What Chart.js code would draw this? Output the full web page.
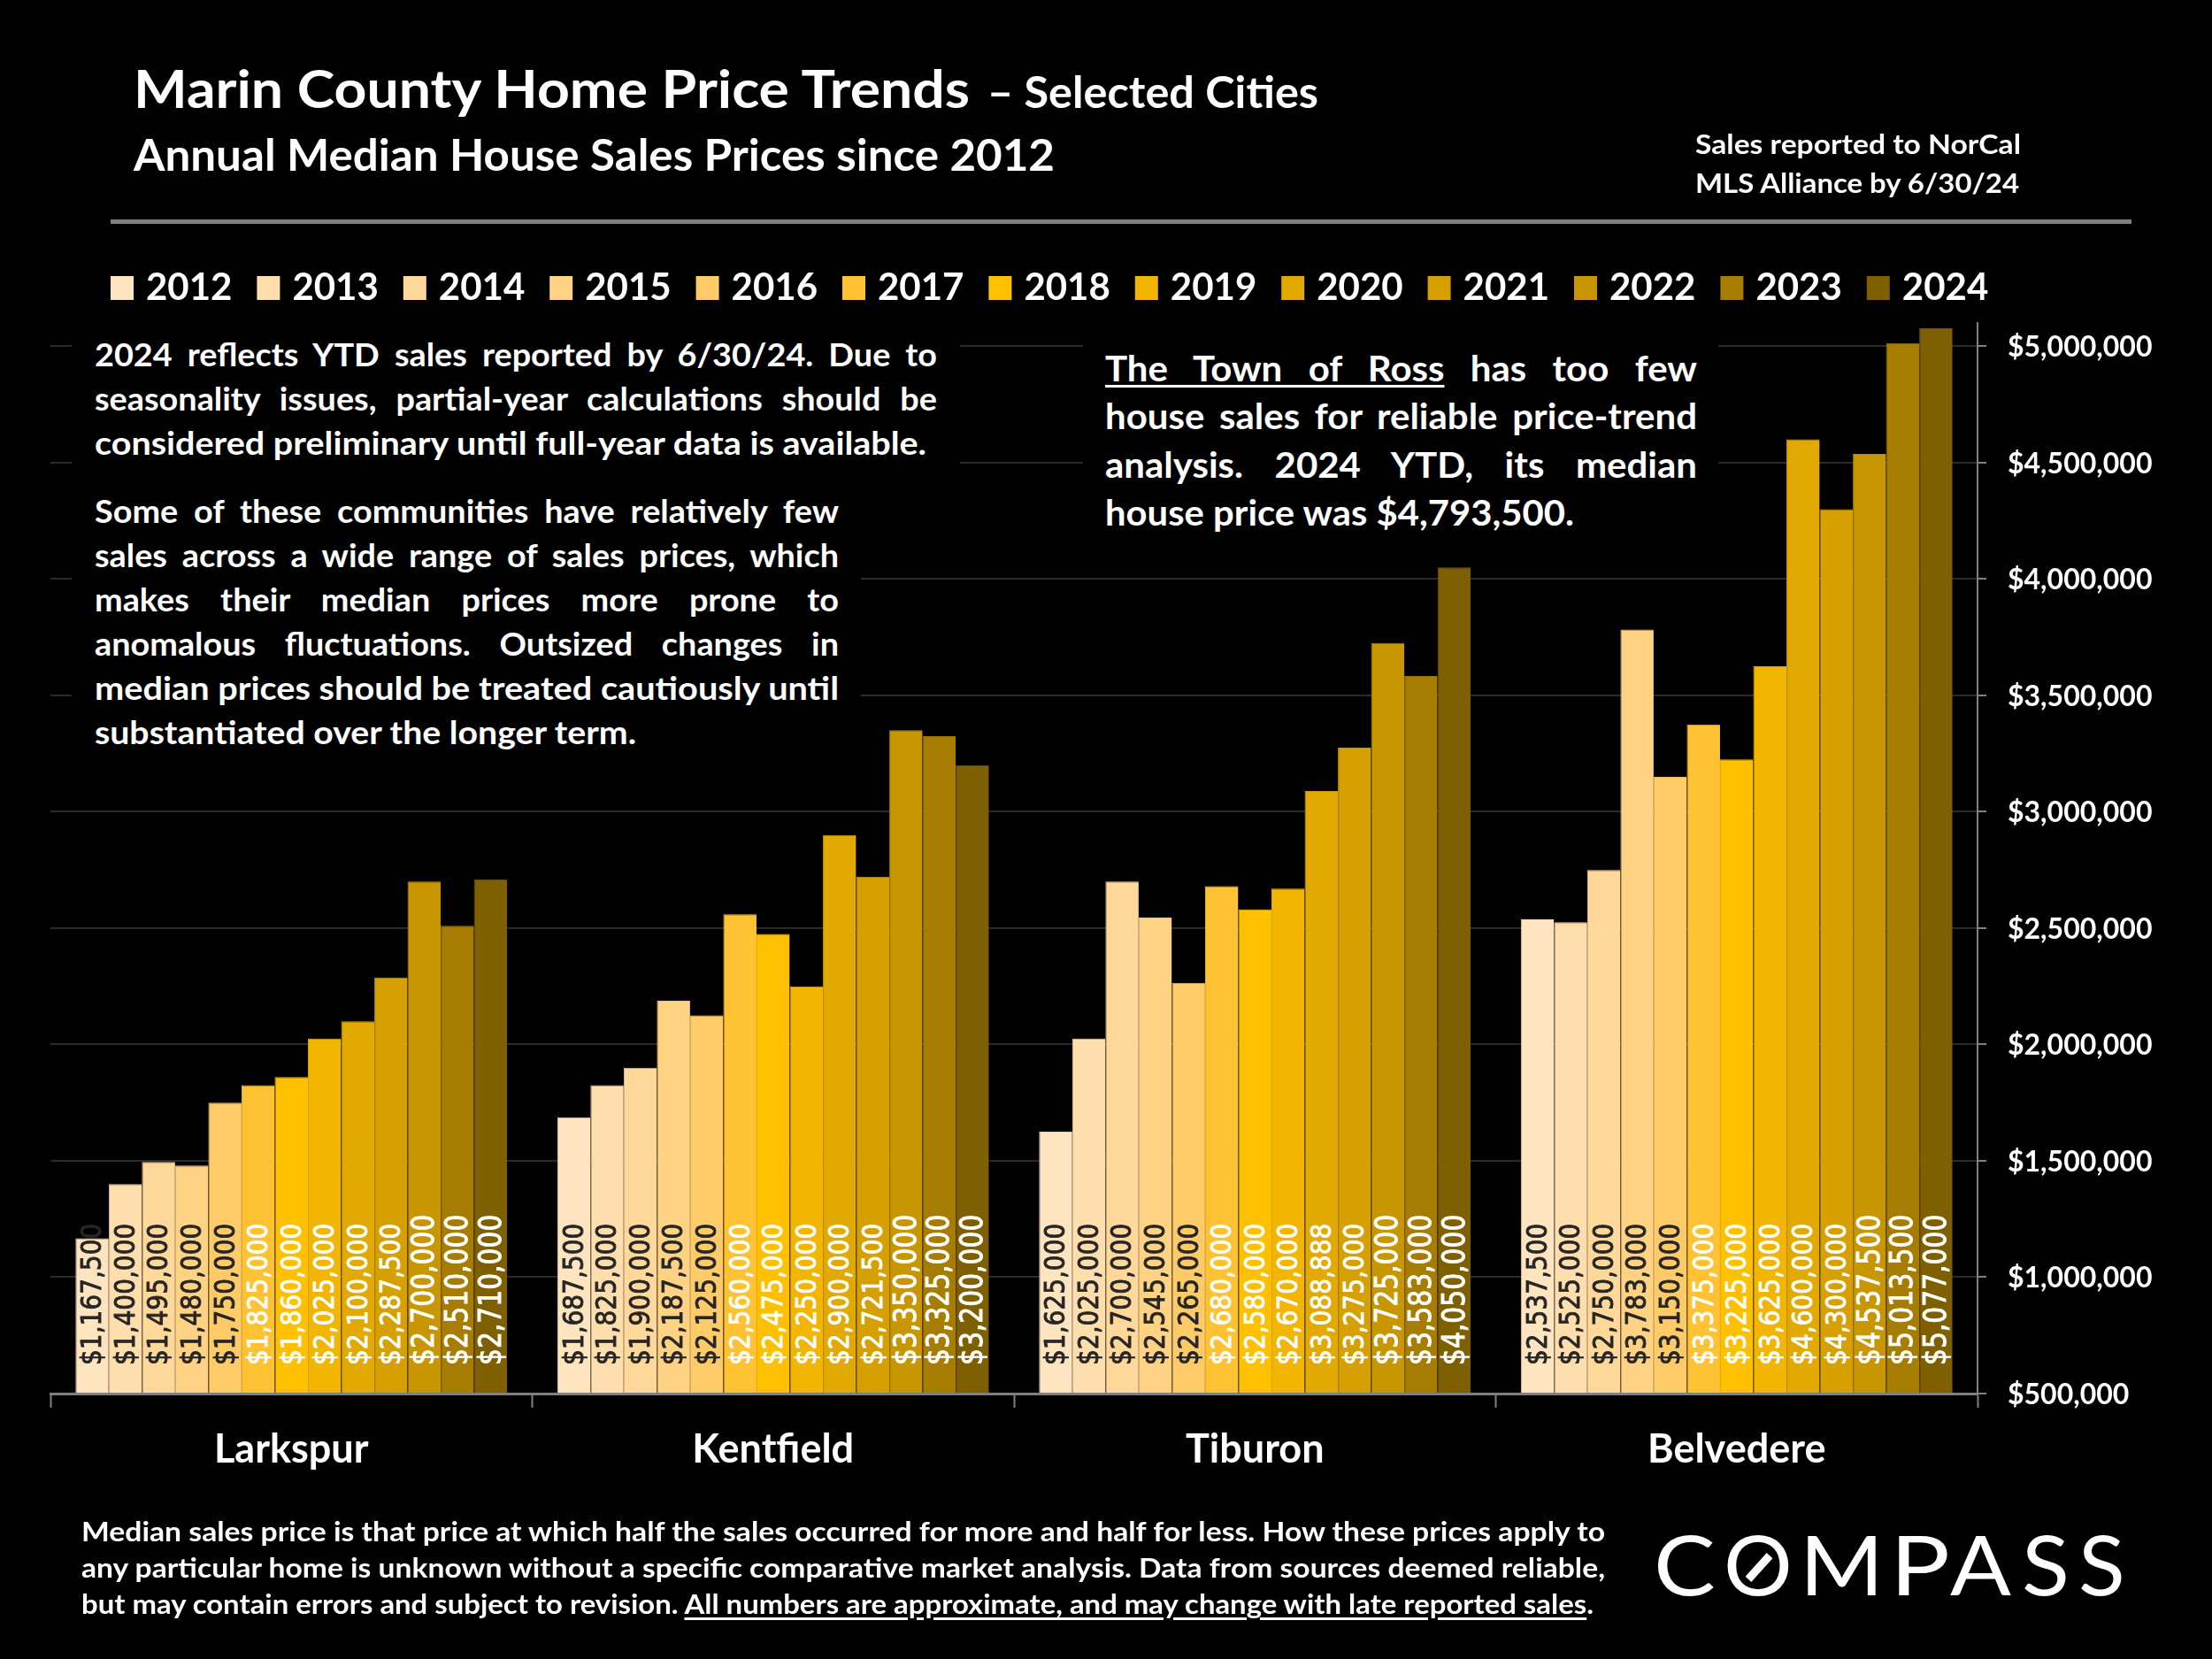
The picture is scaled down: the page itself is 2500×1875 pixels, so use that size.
<!DOCTYPE html>
<html><head><meta charset="utf-8">
<style>
html,body{margin:0;padding:0;background:#000;width:2500px;height:1875px;overflow:hidden}
#c{position:absolute;left:0;top:0;width:2500px;height:1875px}
.t{position:absolute;color:#fff;font-family:Lato,sans-serif;font-weight:700;line-height:1;white-space:pre;transform-origin:0 50%}
.b{position:absolute;background:#000}
u{text-underline-offset:4px;text-decoration-thickness:3px}
#logo span{position:absolute;top:0;transform-origin:0 50%}
</style></head><body>
<canvas id="c" width="2500" height="1875"></canvas>
<div class="b" style="left:1224px;top:375px;width:718px;height:235px"></div>
<div class="b" style="left:81px;top:375px;width:1004px;height:165px"></div>
<div class="b" style="left:81px;top:540px;width:892px;height:320px"></div>
<div class="b" style="left:125px;top:248px;width:2284px;height:5px;background:#808080"></div>
<div id="txt"></div>
<div id="slash" style="position:absolute;background:#fff;width:36px;height:9px"></div>
<script src="https://cdn.jsdelivr.net/npm/chart.js@4"></script>
<script>
const years = ['2012','2013','2014','2015','2016','2017','2018','2019','2020','2021','2022','2023','2024'];
const cities = ['Larkspur','Kentfield','Tiburon','Belvedere'];
const larkspur  = [1167500,1400000,1495000,1480000,1750000,1825000,1860000,2025000,2100000,2287500,2700000,2510000,2710000];
const kentfield = [1687500,1825000,1900000,2187500,2125000,2560000,2475000,2250000,2900000,2721500,3350000,3325000,3200000];
const tiburon   = [1625000,2025000,2700000,2545000,2265000,2680000,2580000,2670000,3088888,3275000,3725000,3583000,4050000];
const belvedere = [2537500,2525000,2750000,3783000,3150000,3375000,3225000,3625000,4600000,4300000,4537500,5013500,5077000];
const yTicks = [500000,1000000,1500000,2000000,2500000,3000000,3500000,4000000,4500000,5000000];
const barColors = ['#FFE4C0','#FFDEAE','#FFD89A','#FFD284','#FFCB68','#FFC233','#FFC000','#F2B500','#E2A900','#D5A000','#C79600','#A67D00','#7F6000'];
const barEdges  = ['#E8CFAE','#E8CA9E','#E8C58C','#E8BF78','#E8B95F','#E8B02F','#E8AE00','#DCA500','#CE9A00','#C29200','#B58900','#977200','#735700'];
const cityValues = [larkspur,kentfield,tiburon,belvedere];
const money = v => '$' + v.toLocaleString('en-US');

const LEG_FONT = 42;
const mctx = document.createElement('canvas').getContext('2d');
mctx.font = `700 ${LEG_FONT}px Lato`;
const legPad = 165.4 - 12 - LEG_FONT/2 - mctx.measureText('2012').width;

const valueLabels = {
  id:'valueLabels',
  afterDatasetsDraw(chart){
    const ctx = chart.ctx, baseY = chart.scales.y.getPixelForValue(500000);
    chart.data.datasets.forEach((ds,di)=>{
      const meta = chart.getDatasetMeta(di);
      meta.data.forEach((bar,i)=>{
        ctx.save();
        ctx.translate(bar.x+2, baseY-32);
        ctx.rotate(-Math.PI/2);
        const big = di>=10;
        ctx.scale(big?0.85:0.875,1);
        ctx.font = `${big?35:32}px "DejaVu Sans"`;
        const col = di<5 ? '#262626' : '#FFFFFF';
        ctx.fillStyle = col; ctx.strokeStyle = col; ctx.lineWidth = 0.9;
        ctx.textAlign='left'; ctx.textBaseline='middle';
        ctx.fillText(money(ds.data[i]),0,0);
        ctx.strokeText(money(ds.data[i]),0,0);
        ctx.restore();
      });
    });
  }
};
const legendPlace = {
  id:'legendPlace',
  afterLayout(chart){ chart.legend.left = 132 - legPad; chart.legend.top = 304.5 - legPad; }
};

new Chart(document.getElementById('c'),{
  type:'bar',
  data:{
    labels:cities,
    datasets:years.map((y,i)=>({
      label:y,
      data:cityValues.map(c=>c[i]),
      backgroundColor:barColors[i],
      borderColor:barEdges[i],
      borderWidth:{left:1,top:1,right:0,bottom:0},
      categoryPercentage:0.896,
      barPercentage:1
    }))
  },
  plugins:[valueLabels,legendPlace],
  options:{
    responsive:false,animation:false,devicePixelRatio:1,
    layout:{padding:{left:57,right:0,bottom:0,top:365-(LEG_FONT+legPad+10)}},
    plugins:{
      tooltip:{enabled:false},
      legend:{
        position:'top',align:'start',
        labels:{
          boxWidth:12,boxHeight:13,padding:legPad,color:'#fff',
          font:{family:'Lato',weight:'700',size:LEG_FONT},
          generateLabels(chart){
            return chart.data.datasets.map((d,i)=>({text:d.label,fillStyle:d.backgroundColor,strokeStyle:d.backgroundColor,lineWidth:14,datasetIndex:i,hidden:false,fontColor:'#fff'}));
          }
        }
      }
    },
    scales:{
      x:{
        type:'category',position:'bottom',
        afterFit(s){s.height=300;},
        grid:{offset:true,drawOnChartArea:false,tickLength:16,tickColor:'#808080',tickWidth:2,color:'#808080'},
        border:{color:'#808080',width:3,z:1},
        ticks:{color:'#fff',padding:20,maxRotation:0,font:{family:'Lato',weight:'700',size:45}}
      },
      y:{
        type:'linear',position:'right',min:500000,max:5100000,
        afterFit(s){s.width=265;},
        afterBuildTicks(s){s.ticks=yTicks.map(v=>({value:v}));},
        grid:{color:'#2a2a2a',lineWidth:2,tickLength:10,tickColor:'#808080',tickWidth:2},
        border:{color:'#808080',width:2,z:1},
        ticks:{color:'#fff',padding:24,labelOffset:1.5,callback:v=>money(v),font:{family:'Lato',weight:'700',size:32}}
      }
    }
  }
});

const LS = 1.05, RS = 1.05;
const lines = [
 {h:'Marin County Home Price Trends',x:151,r:1096,b:123,s:59},
 {h:'– Selected Cities',x:1116,r:1490,b:122,s:50},
 {h:'Annual Median House Sales Prices since 2012',x:151,r:1192,b:193,s:50},
 {h:'Sales reported to NorCal',x:1916,r:2284,b:175,s:31},
 {h:'MLS Alliance by 6/30/24',x:1916,r:2282,b:219,s:31},
 {h:'2024 reflects YTD sales reported by 6/30/24. Due to',x:107,r:1059,b:414,s:36,j:LS},
 {h:'seasonality issues, partial-year calculations should be',x:107,r:1059,b:464,s:36,j:LS},
 {h:'considered preliminary until full-year data is available.',x:107,r:1047,b:514,s:36},
 {h:'Some of these communities have relatively few',x:107,r:948,b:591,s:36,j:LS},
 {h:'sales across a wide range of sales prices, which',x:107,r:948,b:641,s:36,j:LS},
 {h:'makes their median prices more prone to',x:107,r:948,b:691,s:36,j:LS},
 {h:'anomalous fluctuations. Outsized changes in',x:107,r:948,b:741,s:36,j:LS},
 {h:'median prices should be treated cautiously until',x:107,r:948,b:791,s:36},
 {h:'substantiated over the longer term.',x:107,r:719,b:841,s:36},
 {h:'<u>The Town of Ross</u> has too few',x:1249,r:1918,b:431.5,s:40,j:RS},
 {h:'house sales for reliable price-trend',x:1249,r:1918,b:485.5,s:40,j:RS},
 {h:'analysis. 2024 YTD, its median',x:1249,r:1918,b:540.5,s:40,j:RS},
 {h:'house price was $4,793,500.',x:1249,r:1779,b:594.5,s:40},
 {h:'Median sales price is that price at which half the sales occurred for more and half for less. How these prices apply to',x:92,r:1814,b:1742,s:30},
 {h:'any particular home is unknown without a specific comparative market analysis. Data from sources deemed reliable,',x:92,r:1814,b:1783,s:30},
 {h:'but may contain errors and subject to revision. <u>All numbers are approximate, and may change with late reported sales</u>.',x:92,r:1801,b:1824,s:30}
];
mctx.font='100px Lato';
const mm = mctx.measureText('Hg');
const A = mm.fontBoundingBoxAscent/100, D = mm.fontBoundingBoxDescent/100;
const baseOff = (1-(A+D))/2 + A;
const host = document.getElementById('txt');
function place(l){
  const d=document.createElement('div');d.className='t';d.innerHTML=l.h;
  d.style.fontSize=l.s+'px';
  d.style.left=l.x+'px';
  d.style.top=(l.b-baseOff*l.s)+'px';
  host.appendChild(d);
  const w=d.getBoundingClientRect().width, target=l.r-l.x;
  if(l.j){
    const n=d.textContent.split(' ').length-1;
    d.style.wordSpacing=((target/l.j-w)/n)+'px';
    d.style.transform=`scaleX(${l.j})`;
  } else {
    d.style.transform=`scaleX(${target/w})`;
  }
  return d;
}
lines.forEach(place);

// logo wordmark: each letter fitted to its measured ink extent
const logoLetters = 'COMPASS';
const logoEdges = [[1873,1937],[1952,2022],[2043,2120],[2146,2202],[2204,2273],[2288,2335],[2352,2398]];
const logo=document.createElement('div');logo.id='logo';logo.className='t';
logo.style.cssText+=';font-weight:400;font-size:93px;left:0;top:'+(1804-baseOff*93)+'px';
mctx.font='400 93px Lato';
[...logoLetters].forEach((ch,i)=>{
  const m=mctx.measureText(ch), ink=m.actualBoundingBoxLeft+m.actualBoundingBoxRight;
  const sc=(logoEdges[i][1]-logoEdges[i][0])/ink;
  const sp=document.createElement('span');sp.textContent=ch;
  sp.style.left=(logoEdges[i][0]+m.actualBoundingBoxLeft*sc)+'px';
  sp.style.transform=`scaleX(${sc})`;
  logo.appendChild(sp);
});
host.appendChild(logo);
const slash=document.getElementById('slash');
slash.style.left=(1988-18)+'px';slash.style.top=(1771-4.5)+'px';slash.style.transform='rotate(-48deg)';
</script>
</body></html>
